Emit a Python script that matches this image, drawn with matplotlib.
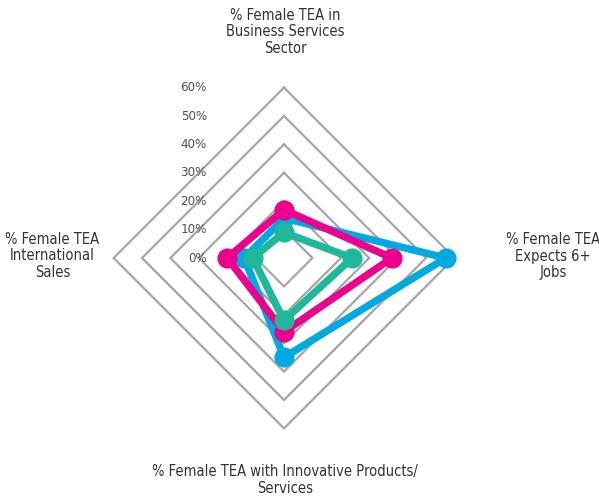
import numpy as np
import matplotlib
matplotlib.use("Agg")
import matplotlib.pyplot as plt

categories = ["% Female TEA in\nBusiness Services\nSector",
              "% Female TEA\nExpects 6+\nJobs",
              "% Female TEA with Innovative Products/\nServices",
              "% Female TEA\nInternational\nSales"]
series_blue = [14, 57, 35, 14]
series_magenta = [17, 38, 26, 20]
series_green = [9, 24, 22, 11]
tick_values = [0, 10, 20, 30, 40, 50, 60]
tick_labels = ["0%", "10%", "20%", "30%", "40%", "50%", "60%"]

W, H = 599, 501
cx, cy = 284, 258          # centre in pixels (from top)
ppu = 2.84                 # pixels per percent

plt.rcParams['font.family'] = ['DejaVu Sans']
plt.rcParams['font.stretch'] = 'condensed'

fig = plt.figure(figsize=(W / 100, H / 100), dpi=100)
ax = fig.add_axes([0, 0, 1, 1])
ax.set_xlim(-cx / ppu, (W - cx) / ppu)
ax.set_ylim(-(H - cy) / ppu, cy / ppu)
ax.axis('off')

angles = np.deg2rad([90, 0, -90, 180])

def to_xy(vals):
    v = np.asarray(vals, dtype=float)
    x = v * np.cos(angles)
    y = v * np.sin(angles)
    return np.append(x, x[0]), np.append(y, y[0])

grid_color = "#A6A6A6"
for t in tick_values[1:]:
    gx, gy = to_xy([t] * 4)
    ax.plot(gx, gy, color=grid_color, lw=1.6, zorder=1, solid_joinstyle='miter')

colors = {"blue": "#00A9E0", "magenta": "#EC008C", "green": "#1FB89A"}
for name, vals in [("blue", series_blue), ("magenta", series_magenta), ("green", series_green)]:
    x, y = to_xy(vals)
    ax.plot(x, y, color=colors[name], lw=5.3, marker='o', markersize=13.5,
            markevery=list(range(4)), zorder=3, solid_joinstyle='round')

for v, lab in zip(tick_values, tick_labels):
    ax.text((207 - cx) / ppu, v, lab, ha='right', va='center',
            fontsize=9.5, color="#505050", fontstretch='condensed')

text_color = "#333333"
label_pos = [(285, 32, 'center'), (553, 256, 'center'), (285, 480, 'center'), (52.5, 256, 'center')]
for lab, (px, py, ha) in zip(categories, label_pos):
    fig.text(px / W, 1 - py / H, lab, ha=ha, va='center', multialignment='center',
             fontsize=10.5, color=text_color, linespacing=1.15, fontstretch='condensed')

fig.savefig("out.png", dpi=100)
